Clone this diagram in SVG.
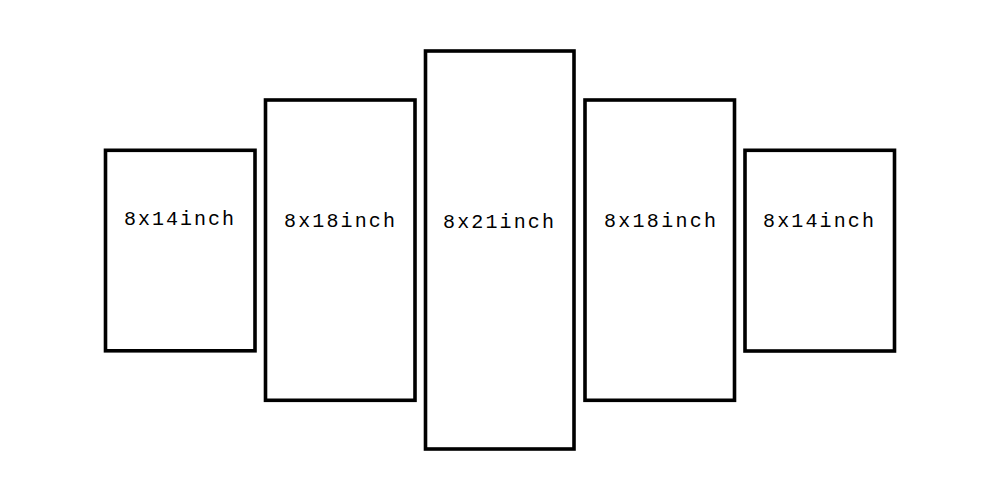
<svg xmlns="http://www.w3.org/2000/svg" width="1000" height="500" viewBox="0 0 1000 500">
<style>
.panel{fill:#fff;stroke:#000;stroke-width:3.6}
.lbl{font-family:"Liberation Mono","DejaVu Sans Mono",monospace;font-size:20px;fill:#000;text-anchor:middle}
</style>
<rect width="1000" height="500" fill="#fff"/>
<g id="panel1"><rect class="panel" x="105.5" y="150.3" width="149.5" height="200.5"/><text class="lbl" x="179" y="225" textLength="110" lengthAdjust="spacing">8x14inch</text></g>
<g id="panel2"><rect class="panel" x="265.5" y="100" width="149.5" height="300.3"/><text class="lbl" x="339.5" y="227.3" textLength="111" lengthAdjust="spacing">8x18inch</text></g>
<g id="panel3"><rect class="panel" x="425.5" y="51" width="148.5" height="398"/><text class="lbl" x="498.5" y="228" textLength="111" lengthAdjust="spacing">8x21inch</text></g>
<g id="panel4"><rect class="panel" x="585" y="100" width="149.5" height="300.3"/><text class="lbl" x="660" y="227" textLength="112" lengthAdjust="spacing">8x18inch</text></g>
<g id="panel5"><rect class="panel" x="745" y="150.3" width="149.5" height="200.7"/><text class="lbl" x="818.5" y="227" textLength="111" lengthAdjust="spacing">8x14inch</text></g>
<g id="connectors"/>
</svg>
